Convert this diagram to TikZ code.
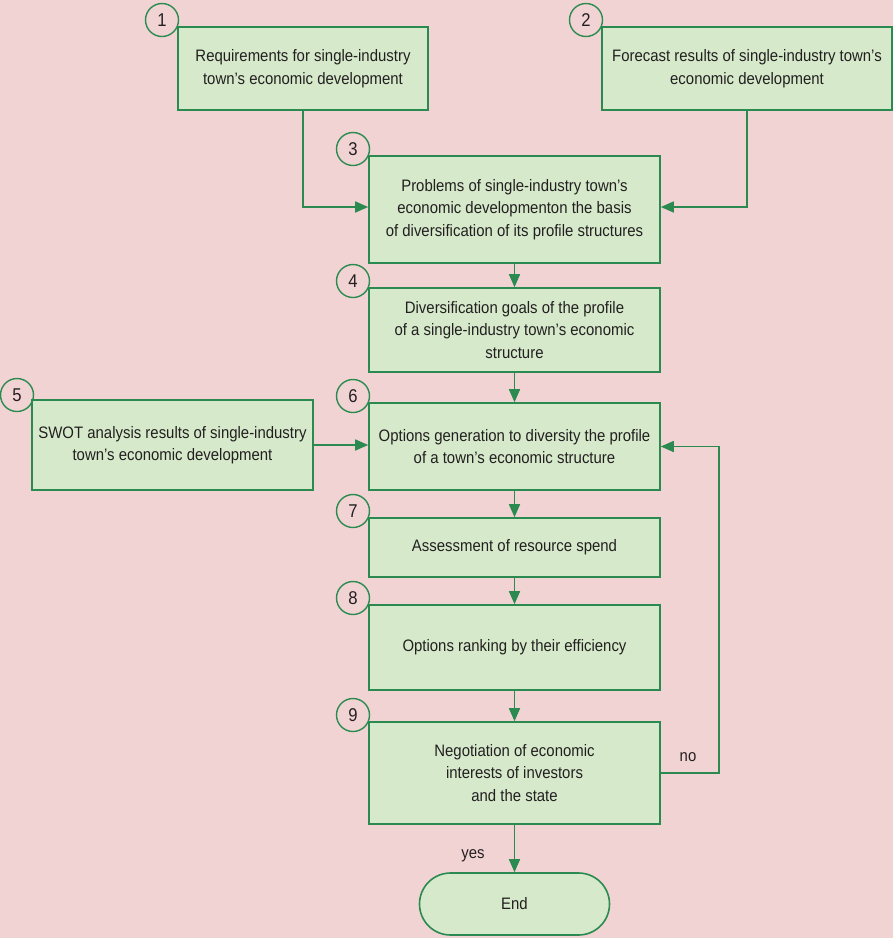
\documentclass[tikz,border=0pt]{standalone}
\usepackage{fontspec}
\setmainfont{Liberation Sans}[FakeStretch=0.9]
\usetikzlibrary{arrows.meta}
\definecolor{bgpink}{HTML}{F2D3D4}
\definecolor{boxfill}{HTML}{D6EACB}
\definecolor{lngreen}{HTML}{2A8A50}
\definecolor{txt}{HTML}{231F20}
\tikzset{
  stepbox/.style={draw=lngreen, fill=boxfill, line width=1.6pt, align=center, text=txt,
    inner sep=0pt, font=\fontsize{16.6}{22.5}\selectfont},
  numcirc/.style={draw=lngreen, circle, line width=1.4pt, minimum size=33pt, inner sep=0pt,
    text=txt, font=\fontsize{18.5}{18.5}\selectfont},
  conn/.style={draw=lngreen, line width=1.6pt, -{Triangle[length=13pt,width=11pt]}},
  lbl/.style={text=txt, font=\fontsize{16.6}{18}\selectfont}
}
\begin{document}
\begin{tikzpicture}[x=1pt,y=-1pt]
\fill[bgpink] (0,0) rectangle (893,938);
\useasboundingbox (0,0) rectangle (893,938);
% number circles
\node[numcirc] (c1) at (162,20) {1};
\node[numcirc] (c2) at (586,20) {2};
\node[numcirc] (c3) at (353,149) {3};
\node[numcirc] (c4) at (353,281) {4};
\node[numcirc] (c5) at (17,395) {5};
\node[numcirc] (c6) at (353,396) {6};
\node[numcirc] (c7) at (353,511) {7};
\node[numcirc] (c8) at (353,598) {8};
\node[numcirc] (c9) at (353,715) {9};
% boxes
\node[stepbox, minimum width=250pt, minimum height=83pt] (b1) at (303,68.5)
  {Requirements for single-industry\\town’s economic development};
\node[stepbox, minimum width=290pt, minimum height=83pt] (b2) at (747,68.5)
  {Forecast results of single-industry town’s\\economic development};
\node[stepbox, minimum width=291pt, minimum height=107pt] (b3) at (514.5,209.5)
  {Problems of single-industry town’s\\economic developmenton the basis\\of diversification of its profile structures};
\node[stepbox, minimum width=291pt, minimum height=84pt] (b4) at (514.5,330)
  {Diversification goals of the profile\\of a single-industry town’s economic\\structure};
\node[stepbox, minimum width=281pt, minimum height=90pt] (b5) at (172.5,445)
  {SWOT analysis results of single-industry\\town’s economic development};
\node[stepbox, minimum width=291pt, minimum height=87pt] (b6) at (514.5,446.5)
  {Options generation to diversity the profile\\of a town’s economic structure};
\node[stepbox, minimum width=291pt, minimum height=59pt] (b7) at (514.5,547.5)
  {Assessment of resource spend};
\node[stepbox, minimum width=291pt, minimum height=85pt] (b8) at (514.5,647.5)
  {Options ranking by their efficiency};
\node[stepbox, minimum width=291pt, minimum height=102pt] (b9) at (514.5,773)
  {Negotiation of economic\\interests of investors\\and the state};
\node[stepbox, minimum width=190pt, minimum height=62pt, rounded corners=31pt] (end) at (514.5,904)
  {End};
% connectors
\draw[conn] (b1.south) |- ([yshift=2.5pt]b3.west);
\draw[conn] (b2.south) |- ([yshift=2.5pt]b3.east);
\draw[conn] (b3.south) -- (b4.north);
\draw[conn] (b4.south) -- (b6.north);
\draw[conn] (b5.east) -- (b5.east -| b6.west);
\draw[conn] (b6.south) -- (b7.north);
\draw[conn] (b7.south) -- (b8.north);
\draw[conn] (b8.south) -- (b9.north);
\coordinate (loop) at (719,773);
\draw[conn] (b9.east) -- (loop) |- (b6.east);
\draw[conn] (b9.south) -- (end.north);
\node[lbl] (no) at (688,757) {no};
\node[lbl] (yes) at (473,856) {yes};
\end{tikzpicture}
\end{document}
